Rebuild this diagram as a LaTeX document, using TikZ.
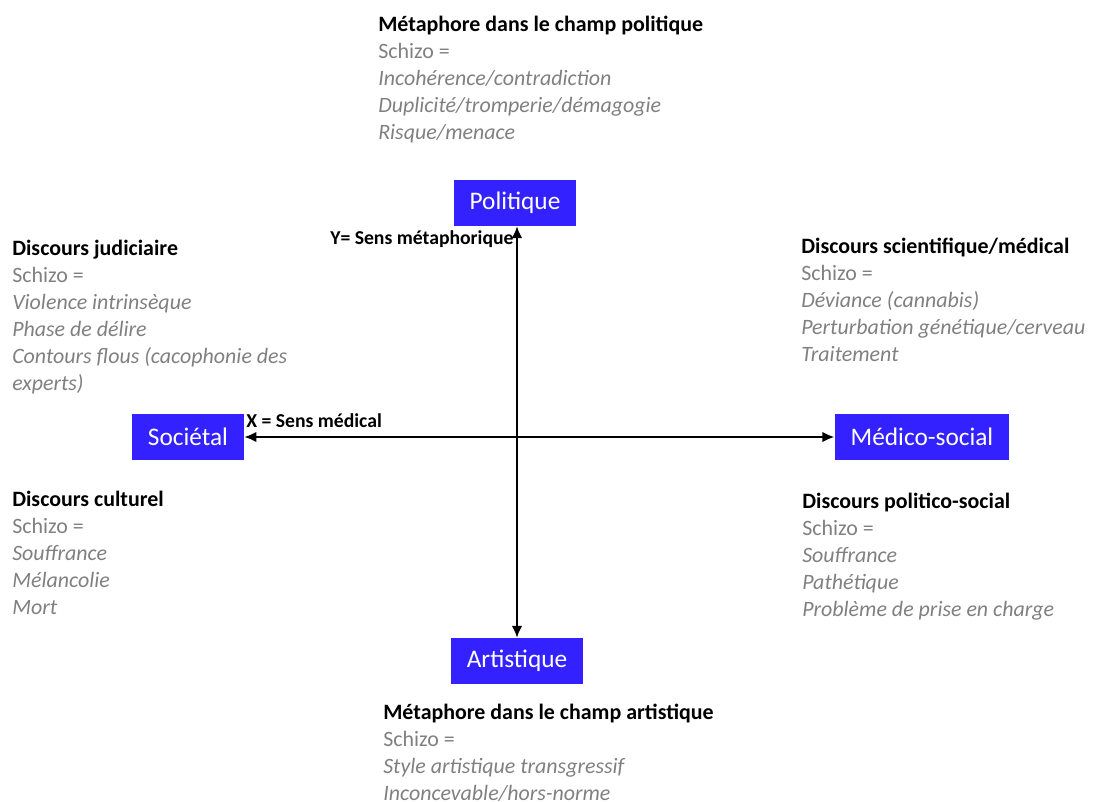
\documentclass[tikz,border=0pt]{standalone}
\usepackage{fontspec}
\setmainfont{Carlito}
\usetikzlibrary{arrows.meta}

\definecolor{fieldblue}{RGB}{51,34,255}
\definecolor{glossgray}{RGB}{128,128,128}

\newcommand{\head}[1]{\rule{0pt}{12pt}\textcolor{black}{\bfseries #1}}

\tikzset{
  field/.style={fill=fieldblue,text=white,font=\fontsize{18}{21}\selectfont,
    minimum height=32.6pt,inner xsep=11.4pt},
  gloss/.style={anchor=north west,inner sep=0pt,align=left,text=glossgray,
    font=\fontsize{15.6}{19.2}\selectfont},
  axislabel/.style={anchor=base west,inner sep=0pt,font=\fontsize{14}{16}\selectfont\bfseries},
  axis/.style={line width=1.4pt,{Latex[length=8.5pt,width=7.5pt]}-{Latex[length=8.5pt,width=7.5pt]}}
}

\begin{document}
\begin{tikzpicture}[x=0.025cm,y=-0.025cm]
\useasboundingbox (0,0) rectangle (1100,802);

% the four fields
\node[field] (pol) at (515,203) {Politique};
\node[field] (soc) at (188,437) {Sociétal};
\node[field] (med) at (922,437) {Médico-social};
\node[field] (art) at (517,661) {Artistique};

% axes
\draw[axis] (soc.east) -- (med.west);
\draw[axis] (art.north |- pol.south) -- (art.north);
\node[axislabel] (ylab) at (330,244) {Y= Sens métaphorique};
\node[axislabel] (xlab) at (246,427) {X = Sens médical};

% discourses
\node[gloss] (polgloss) at (378,14.6) {\head{Métaphore dans le champ politique}\\
  Schizo =\\ \textit{Incohérence/contradiction}\\ \textit{Duplicité/tromperie/démagogie}\\
  \textit{Risque/menace}};
\node[gloss] (judgloss) at (12,238.6) {\head{Discours judiciaire}\\
  Schizo =\\ \textit{Violence intrinsèque}\\ \textit{Phase de délire}\\
  \textit{Contours flous (cacophonie des}\\ \textit{experts)}};
\node[gloss] (scigloss) at (801,236.6) {\head{Discours scientifique/médical}\\
  Schizo =\\ \textit{Déviance (cannabis)}\\ \textit{Perturbation génétique/cerveau}\\
  \textit{Traitement}};
\node[gloss] (culgloss) at (12,489.6) {\head{Discours culturel}\\
  Schizo =\\ \textit{Souffrance}\\ \textit{Mélancolie}\\ \textit{Mort}};
\node[gloss] (socgloss) at (802,491.6) {\head{Discours politico-social}\\
  Schizo =\\ \textit{Souffrance}\\ \textit{Pathétique}\\ \textit{Problème de prise en charge}};
\node[gloss] (artgloss) at (383,702.6) {\head{Métaphore dans le champ artistique}\\
  Schizo =\\ \textit{Style artistique transgressif}\\ \textit{Inconcevable/hors-norme}};
\end{tikzpicture}
\end{document}
